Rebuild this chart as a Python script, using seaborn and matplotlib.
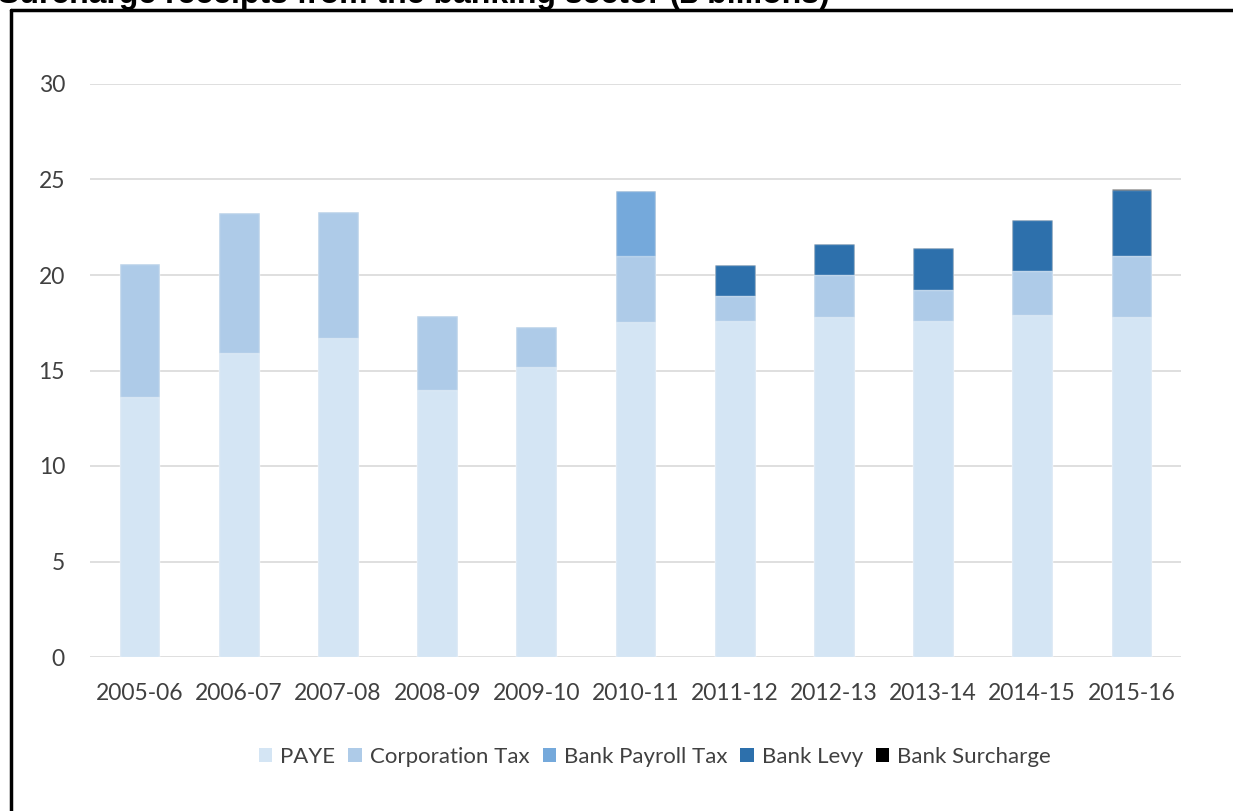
import numpy as np
import pandas as pd
import matplotlib.pyplot as plt
from matplotlib.patches import Patch
from matplotlib.lines import Line2D
import seaborn as sns

# dati (miliardi di sterline)
years = ["2005-06", "2006-07", "2007-08", "2008-09", "2009-10", "2010-11",
         "2011-12", "2012-13", "2013-14", "2014-15", "2015-16"]
paye = [13.6, 15.9, 16.7, 14.0, 15.2, 17.55, 17.6, 17.8, 17.6, 17.9, 17.8]
corporation_tax = [7.0, 7.35, 6.6, 3.85, 2.1, 3.45, 1.3, 2.2, 1.6, 2.3, 3.2]
bank_payroll_tax = [0, 0, 0, 0, 0, 3.4, 0, 0, 0, 0, 0]
bank_levy = [0, 0, 0, 0, 0, 0, 1.6, 1.6, 2.2, 2.7, 3.45]
bank_surcharge = [0, 0, 0, 0, 0, 0, 0, 0, 0, 0, 0.06]

series = ["PAYE", "Corporation Tax", "Bank Payroll Tax", "Bank Levy", "Bank Surcharge"]
colors = ["#d4e5f4", "#aecbe8", "#75a9db", "#2d70ac", "#000000"]

df = pd.DataFrame({
    "year": years,
    "PAYE": paye,
    "Corporation Tax": corporation_tax,
    "Bank Payroll Tax": bank_payroll_tax,
    "Bank Levy": bank_levy,
    "Bank Surcharge": bank_surcharge,
})
cum = df[series].cumsum(axis=1)

sns.set_style("white")
plt.rcParams['font.family'] = ['Lato', 'DejaVu Sans']
text_col = "#404040"

fig = plt.figure(figsize=(12.33, 8.11), dpi=100)
ax = fig.add_axes([90 / 1233, 1 - 657 / 811, (1181 - 90) / 1233, (657 - 84) / 811])

# barre impilate: si disegna dal totale verso il basso
for name, col in reversed(list(zip(series, colors))):
    sns.barplot(x=df["year"], y=cum[name], color=col, width=0.4, ax=ax,
                edgecolor=(1, 1, 1, 0.35), linewidth=1, saturation=1, zorder=3)

ax.set_ylim(0, 30)
ax.set_xlim(-0.5, len(years) - 0.5)
ax.set_yticks(np.arange(0, 31, 5))
ax.yaxis.grid(True, color="#d9d9d9", linewidth=1.2, zorder=0)
ax.set_axisbelow(True)
sns.despine(ax=ax, left=True, bottom=True)
ax.set_xlabel("")
ax.set_ylabel("")
ax.tick_params(axis="y", length=0, pad=18, labelsize=16.5, labelcolor=text_col)
ax.tick_params(axis="x", length=0, pad=19, labelsize=16.5, labelcolor=text_col)

handles = [Patch(facecolor=c, edgecolor="none", label=s) for s, c in zip(series, colors)]
fig.legend(handles=handles, loc="center", bbox_to_anchor=(655 / 1233, 1 - 757 / 811),
           ncol=5, frameon=False, fontsize=16, handlelength=0.6, handleheight=0.6,
           handletextpad=0.35, columnspacing=0.6, labelcolor=text_col)

# titolo tagliato in alto e bordo del riquadro
fig.text(830 / 1233, 1 - 3 / 811, "Surcharge receipts from the banking sector (£ billions)",
         ha="right", va="baseline", fontsize=23, fontweight="bold",
         family="Liberation Sans", color="black")
fig.add_artist(Line2D([11 / 1233, 11 / 1233], [0, 1 - 10 / 811], color="black", lw=2.5))
fig.add_artist(Line2D([11 / 1233, 1], [1 - 10 / 811, 1 - 10 / 811], color="black", lw=2.5))

fig.savefig("out.png", dpi=100)
